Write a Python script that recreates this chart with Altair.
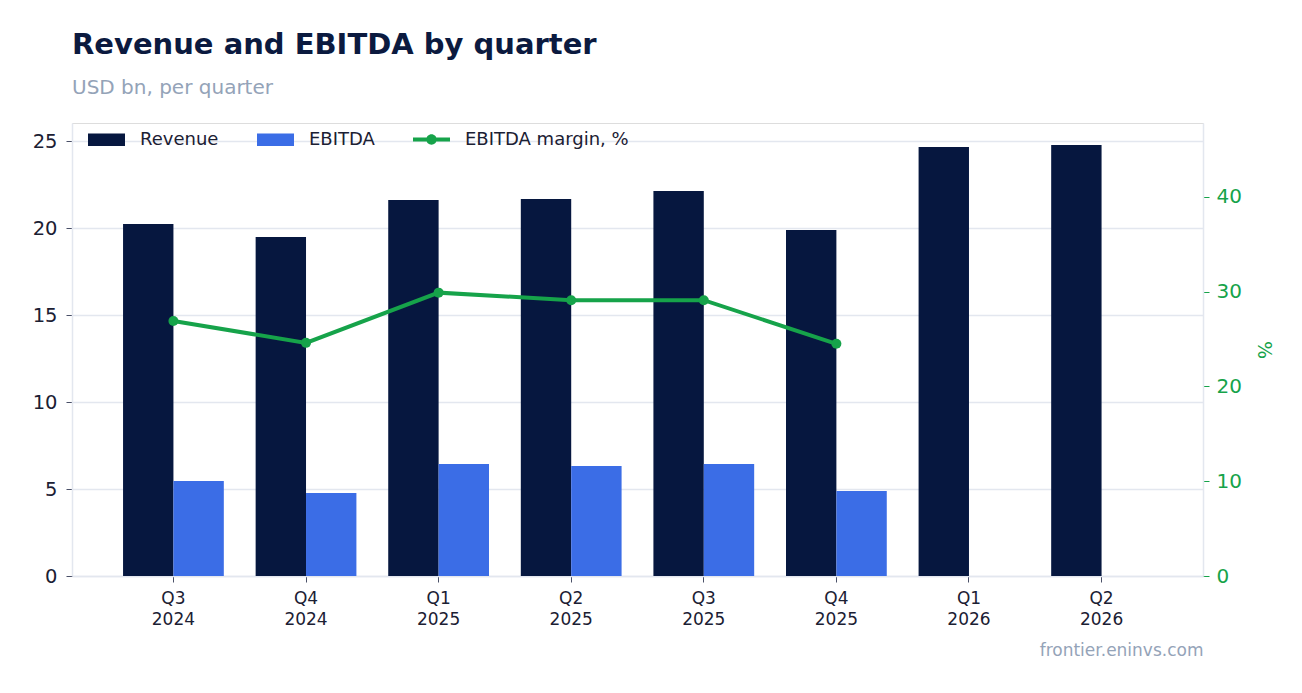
import altair as alt
import pandas as pd

quarters = ["Q3 2024", "Q4 2024", "Q1 2025", "Q2 2025", "Q3 2025", "Q4 2025", "Q1 2026", "Q2 2026"]
revenue = [20.23, 19.48, 21.61, 21.67, 22.13, 19.89, 24.66, 24.77]
ebitda = [5.46, 4.77, 6.44, 6.32, 6.44, 4.89, None, None]
margin = [26.9, 24.6, 29.9, 29.1, 29.1, 24.5, None, None]

bar_series = ["Revenue", "EBITDA"]
bar_colors = ["#06173f", "#3b6de6"]
line_series = "EBITDA margin, %"

rows = []
for q, r, e in zip(quarters, revenue, ebitda):
    rows.append({"quarter": q, "series": "Revenue", "value": r})
    if e is not None:
        rows.append({"quarter": q, "series": "EBITDA", "value": e})
bars_df = pd.DataFrame(rows)
line_df = pd.DataFrame([{"quarter": q, "margin": m, "series": line_series}
                        for q, m in zip(quarters, margin) if m is not None])

FONT = "DejaVu Sans"
DARK = "#1b2033"
GRID = "#e3e7ef"
GREEN = "#16a34a"
GRAY = "#94a3b8"

rect_path = "M-1,-0.34H1V0.34H-1Z"
line_path = ("M-1,-0.11H1V0.11H-1Z "
             "M-0.28,0A0.28,0.28 0 1,1 0.28,0A0.28,0.28 0 1,1 -0.28,0Z")

x_enc = alt.X(
    "quarter:N", sort=quarters,
    scale=alt.Scale(paddingInner=0.24, paddingOuter=0.385),
    axis=alt.Axis(
        title="frontier.eninvs.com", titleAnchor="end", titleColor=GRAY,
        titleFontSize=17, titleFontWeight="normal", titleFont=FONT, titlePadding=15,
        labelAngle=0, labelExpr="split(datum.label, ' ')", labelLineHeight=21,
        labelFontSize=17, labelColor=DARK, labelFont=FONT, labelPadding=8,
        tickColor="#4a5068", tickSize=6, domainColor=GRID, domainWidth=1.5, grid=False,
    ),
)

legend_common = dict(
    title=None, orient="none", direction="horizontal", symbolSize=1369,
    labelFontSize=18, labelColor=DARK, labelFont=FONT, labelOffset=15, labelLimit=400,
    columnPadding=38, padding=0, symbolStrokeWidth=0,
)

right_axis = alt.Axis(orient="right", title="%", titleColor=GREEN, titleFontSize=19,
                      titleFontWeight="normal", titleFont=FONT, titlePadding=12,
                      values=[0, 10, 20, 30, 40], labelFontSize=20, labelColor=GREEN,
                      labelFont=FONT, labelPadding=7, tickColor=GREEN, tickSize=6,
                      domainColor=GRID, domainWidth=1.5, grid=False)

bars = alt.Chart(bars_df).mark_bar().encode(
    x=x_enc,
    xOffset=alt.XOffset("series:N", sort=bar_series,
                        scale=alt.Scale(domain=bar_series, paddingInner=0, paddingOuter=0)),
    y=alt.Y("value:Q",
            scale=alt.Scale(domain=[0, 26.04], nice=False),
            axis=alt.Axis(title=None, values=[0, 5, 10, 15, 20, 25], labelFontSize=19.5,
                          labelColor=DARK, labelFont=FONT, labelPadding=9,
                          tickColor="#4a5068", tickSize=6, domainColor=GRID, domainWidth=1.5,
                          gridColor=GRID, gridWidth=1.5, minExtent=40, maxExtent=40)),
    color=alt.Color(
        "series:N",
        scale=alt.Scale(domain=bar_series, range=bar_colors),
        legend=alt.Legend(symbolType=rect_path, legendX=16, legendY=-2, **legend_common),
    ),
)

line = alt.Chart(line_df).mark_line(color=GREEN, strokeWidth=4).encode(
    x=alt.X("quarter:N", sort=quarters),
    y=alt.Y("margin:Q", scale=alt.Scale(domain=[0, 47.8], nice=False), axis=right_axis),
)

points = alt.Chart(line_df).mark_point(filled=True, size=100, opacity=1).encode(
    x=alt.X("quarter:N", sort=quarters),
    y=alt.Y("margin:Q", scale=alt.Scale(domain=[0, 47.8], nice=False), axis=right_axis),
    color=alt.Color(
        "series:N",
        scale=alt.Scale(domain=[line_series], range=[GREEN]),
        legend=alt.Legend(symbolType=line_path, legendX=341, legendY=-2, **legend_common),
    ),
)

margin_layer = alt.layer(line, points)

chart = alt.layer(bars, margin_layer).resolve_scale(y="independent", color="independent").properties(
    width=1131, height=453,
    padding={"left": 24, "top": 23, "right": 10, "bottom": 10},
    title=alt.TitleParams(
        text="Revenue and EBITDA by quarter", subtitle="USD bn, per quarter",
        anchor="start", frame="group", font=FONT, fontSize=29, fontWeight="bold", color="#0b1a3f",
        subtitleFont=FONT, subtitleFontSize=20, subtitleColor=GRAY, subtitlePadding=18,
        offset=23,
    ),
).configure_view(stroke=None).configure(background="white")

chart.save("out.html", embed_options={"renderer": "svg", "actions": False})
